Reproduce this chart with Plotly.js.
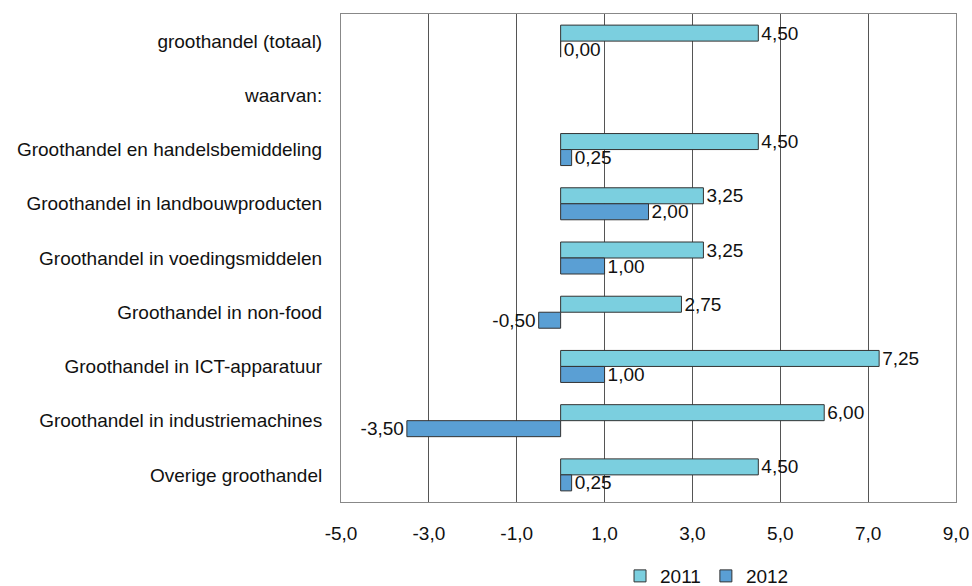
<!DOCTYPE html>
<html>
<head>
<meta charset="utf-8">
<script src="https://cdn.plot.ly/plotly-3.0.1.min.js"></script>
<style>html,body{margin:0;padding:0;background:#fff;}#chart{width:972px;height:586px;}</style>
</head>
<body>
<div id="chart"></div>
<script>
const categories = [
  "groothandel (totaal)",
  "waarvan:",
  "Groothandel en handelsbemiddeling",
  "Groothandel in landbouwproducten",
  "Groothandel in voedingsmiddelen",
  "Groothandel in non-food",
  "Groothandel in ICT-apparatuur",
  "Groothandel in industriemachines",
  "Overige groothandel"
];
const values2011 = [4.50, null, 4.50, 3.25, 3.25, 2.75, 7.25, 6.00, 4.50];
const values2012 = [0.00, null, 0.25, 2.00, 1.00, -0.50, 1.00, -3.50, 0.25];
const xTicks = [-5, -3, -1, 1, 3, 5, 7, 9];
const xTickLabels = ["-5,0", "-3,0", "-1,0", "1,0", "3,0", "5,0", "7,0", "9,0"];

const font = {family: "Liberation Sans, Arial, sans-serif", size: 19, color: "#111"};

const traces = [
  {name: "2011", type: "bar", orientation: "h", y: categories, x: values2011,
   marker: {color: "#7BCFDF", line: {color: "#333", width: 1}},
   texttemplate: "%{x:.2f}", textposition: "outside", cliponaxis: false,
   constraintext: "none", textfont: font, hoverinfo: "none"},
  {name: "2012", type: "bar", orientation: "h", y: categories, x: values2012,
   marker: {color: "#5A9FD4", line: {color: "#333", width: 1}},
   texttemplate: "%{x:.2f}", textposition: "outside", cliponaxis: false,
   constraintext: "none", textfont: font, hoverinfo: "none"}
];

const layout = {
  width: 972, height: 586,
  margin: {l: 341, r: 16, t: 14, b: 84, autoexpand: false},
  paper_bgcolor: "#fff", plot_bgcolor: "#fff",
  separators: ",.",
  font: font,
  barmode: "group", bargap: 0.41, bargroupgap: 0,
  showlegend: true,
  legend: {orientation: "h", xref: "paper", x: 0.4537, xanchor: "left",
           yref: "container", y: 0.017, yanchor: "middle",
           font: font, traceorder: "normal", itemwidth: 30},
  xaxis: {range: [-5, 9], tickvals: xTicks, ticktext: xTickLabels,
          showgrid: true, gridcolor: "#555", gridwidth: 1, automargin: false,
          zeroline: false, showline: true, linecolor: "#888", mirror: true,
          ticks: "", ticklabelstandoff: 14, tickfont: font},
  yaxis: {type: "category", categoryorder: "array", categoryarray: categories,
          autorange: "reversed", showgrid: false, zeroline: false, automargin: false,
          showline: true, linecolor: "#888", mirror: true,
          ticks: "", ticklabelstandoff: 14, tickfont: font}
};

Plotly.newPlot("chart", traces, layout, {displayModeBar: false, staticPlot: true});
</script>
</body>
</html>
